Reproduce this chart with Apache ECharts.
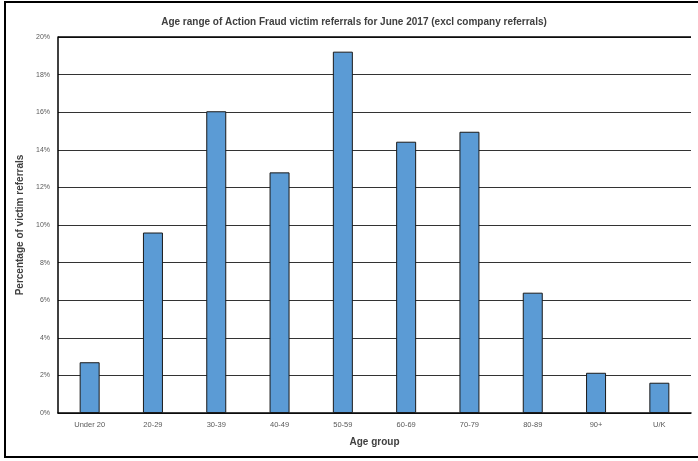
<!DOCTYPE html>
<html><head><meta charset="utf-8">
<script src="https://cdn.jsdelivr.net/npm/echarts@6/dist/echarts.min.js"></script>
<style>html,body{margin:0;padding:0;background:#fff}#c{width:698px;height:461px}</style>
</head><body><div id="c"></div>
<script>
const categories = ['Under 20','20-29','30-39','40-49','50-59','60-69','70-79','80-89','90+','U/K'];
const values = [2.7, 9.6, 16.05, 12.8, 19.22, 14.43, 14.96, 6.4, 2.14, 1.61];
const yTicks = [0, 2, 4, 6, 8, 10, 12, 14, 16, 18, 20];

const chart = echarts.init(document.getElementById('c'));
chart.setOption({
  animation: false,
  title: {
    text: 'Age range of Action Fraud victim referrals for June 2017 (excl company referrals)',
    left: 349, top: 12, textAlign: 'center',
    textStyle: {fontFamily: 'Liberation Sans Narrow, Liberation Sans, sans-serif', fontSize: 10, fontWeight: 'bold', color: '#404040'}
  },
  graphic: [{
    type: 'rect', shape: {x: 5, y: 2, width: 700, height: 455},
    style: {fill: 'none', stroke: '#000', lineWidth: 2}, z: 100
  }],
  grid: {left: 58, right: 7, top: 37, bottom: 48, containLabel: false},
  xAxis: {
    type: 'category', data: categories,
    name: 'Age group', nameLocation: 'middle', nameGap: 24,
    nameTextStyle: {fontFamily: 'Liberation Sans Narrow, Liberation Sans, sans-serif', fontSize: 10, fontWeight: 'bold', color: '#404040'},
    axisLine: {lineStyle: {color: '#000', width: 1.5}},
    axisTick: {show: false},
    axisLabel: {fontFamily: 'Liberation Sans Narrow, Liberation Sans, sans-serif', fontSize: 7.5, color: '#595959', margin: 8}
  },
  yAxis: {
    type: 'value', min: 0, max: 20, interval: 2,
    name: 'Percentage of victim referrals', nameLocation: 'middle', nameGap: 26, nameRotate: 90,
    nameTextStyle: {fontFamily: 'Liberation Sans Narrow, Liberation Sans, sans-serif', fontSize: 10, fontWeight: 'bold', color: '#404040'},
    axisLine: {show: true, lineStyle: {color: '#000', width: 1.5}},
    axisTick: {show: false},
    splitLine: {lineStyle: {color: '#333', width: 1.2}},
    axisLabel: {fontFamily: 'Liberation Sans Narrow, Liberation Sans, sans-serif', fontSize: 7, color: '#595959', margin: 8,
      formatter: v => yTicks.includes(v) ? v + '%' : ''}
  },
  series: [{
    type: 'bar', data: values, barWidth: 20,
    itemStyle: {color: '#5B9BD5', borderColor: '#1a1a1a', borderWidth: 1}
  }, {
    type: 'line', data: [], markLine: {
      silent: true, symbol: 'none', label: {show: false},
      lineStyle: {color: '#000', width: 1.5, type: 'solid'},
      data: [{yAxis: 20}]
    }
  }]
});
</script></body></html>
